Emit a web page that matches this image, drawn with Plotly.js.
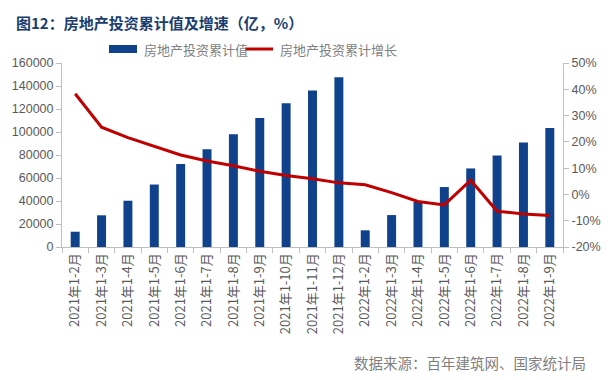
<!DOCTYPE html>
<html><head><meta charset="utf-8">
<script src="https://cdn.plot.ly/plotly-3.0.1.min.js"></script>
<style>body{margin:0;padding:0;background:#fff}#c{width:612px;height:380px}</style>
</head><body><div id="c"></div>
<script>
const categories = ["2021年1-2月","2021年1-3月","2021年1-4月","2021年1-5月","2021年1-6月","2021年1-7月","2021年1-8月","2021年1-9月","2021年1-10月","2021年1-11月","2021年1-12月","2022年1-2月","2022年1-3月","2022年1-4月","2022年1-5月","2022年1-6月","2022年1-7月","2022年1-8月","2022年1-9月"];
const investValue = [13286,27576,40240,54318,72179,84895,98060,112074,124934,136084,147602,14499,27765,39154,52134,68314,79462,90809,103559];
const investGrowth = [38.3,25.6,21.6,18.3,15.0,12.7,10.9,8.8,7.2,6.0,4.4,3.7,0.7,-2.7,-4.0,5.4,-6.4,-7.4,-8.0];
const leftTicks = [0,20000,40000,60000,80000,100000,120000,140000,160000];
const rightTicks = [-20,-10,0,10,20,30,40,50];
const rightTickLabels = rightTicks.map(v => v + "%");
const seriesNames = ["房地产投资累计值","房地产投资累计增长"];

const gray = "#595959";
const barColor = "#0f428b";
const lineColor = "#c00000";
const font = "Liberation Sans, Noto Sans CJK SC, sans-serif";
const cjk = "Noto Sans CJK SC, sans-serif";
const data = [
  {type:"bar", x:categories, y:investValue, name:seriesNames[0], marker:{color:barColor}, yaxis:"y"},
  {type:"scatter", mode:"lines", x:categories, y:investGrowth, name:seriesNames[1], line:{color:lineColor, width:3}, yaxis:"y2"}
];
const layout = {
  width:612, height:380,
  margin:{l:62, r:49, t:63, b:133},
  paper_bgcolor:"#fff", plot_bgcolor:"#fff",
  font:{family:font, color:gray, size:12},
  bargap:0.66,
  showlegend:false,
  xaxis:{type:"category", tickangle:-90, showline:true, linecolor:"#bfbfbf", linewidth:1, ticks:"outside", ticklen:5, tickcolor:"#bfbfbf", tickson:"boundaries", showgrid:false, tickfont:{size:13, color:gray, family:cjk}, range:[-0.5,18.5], fixedrange:true},
  yaxis:{range:[0,160000], tickvals:leftTicks, ticktext:leftTicks.map(String), showline:true, linecolor:"#bfbfbf", ticks:"outside", ticklen:5, tickcolor:"#bfbfbf", showgrid:false, zeroline:false, tickfont:{size:12.5, color:gray}},
  yaxis2:{range:[-20,50], overlaying:"y", side:"right", tickvals:rightTicks, ticktext:rightTickLabels, showline:true, linecolor:"#bfbfbf", ticks:"outside", ticklen:5, tickcolor:"#bfbfbf", showgrid:false, zeroline:false, tickfont:{size:12.5, color:gray}},
  shapes:[
    {type:"rect", xref:"paper", yref:"paper", x0:0.0938, x1:0.1497, y0:1.0543, y1:1.0978, fillcolor:barColor, line:{width:0}},
    {type:"line", xref:"paper", yref:"paper", x0:0.3653, x1:0.4212, y0:1.076, y1:1.076, line:{color:lineColor, width:3}}
  ],
  annotations:[
    {text:"<b>图12：房地产投资累计值及增速（亿，%）</b>", xref:"paper", yref:"paper", x:-0.095, y:1.222, xanchor:"left", yanchor:"middle", showarrow:false, font:{size:15, color:"#1b3d6e", family:cjk}},
    {text:seriesNames[0], xref:"paper", yref:"paper", x:0.1597, y:1.076, xanchor:"left", yanchor:"middle", showarrow:false, font:{size:13, color:"#7f7f7f", family:cjk}},
    {text:seriesNames[1], xref:"paper", yref:"paper", x:0.4311, y:1.076, xanchor:"left", yanchor:"middle", showarrow:false, font:{size:13, color:"#7f7f7f", family:cjk}},
    {text:"数据来源：百年建筑网、国家统计局", xref:"paper", yref:"paper", x:1.05, y:-0.63, xanchor:"right", yanchor:"middle", showarrow:false, font:{size:14.5, color:"#7f7f7f", family:cjk}}
  ]
};
Plotly.newPlot("c", data, layout, {displayModeBar:false, staticPlot:true});
</script></body></html>
